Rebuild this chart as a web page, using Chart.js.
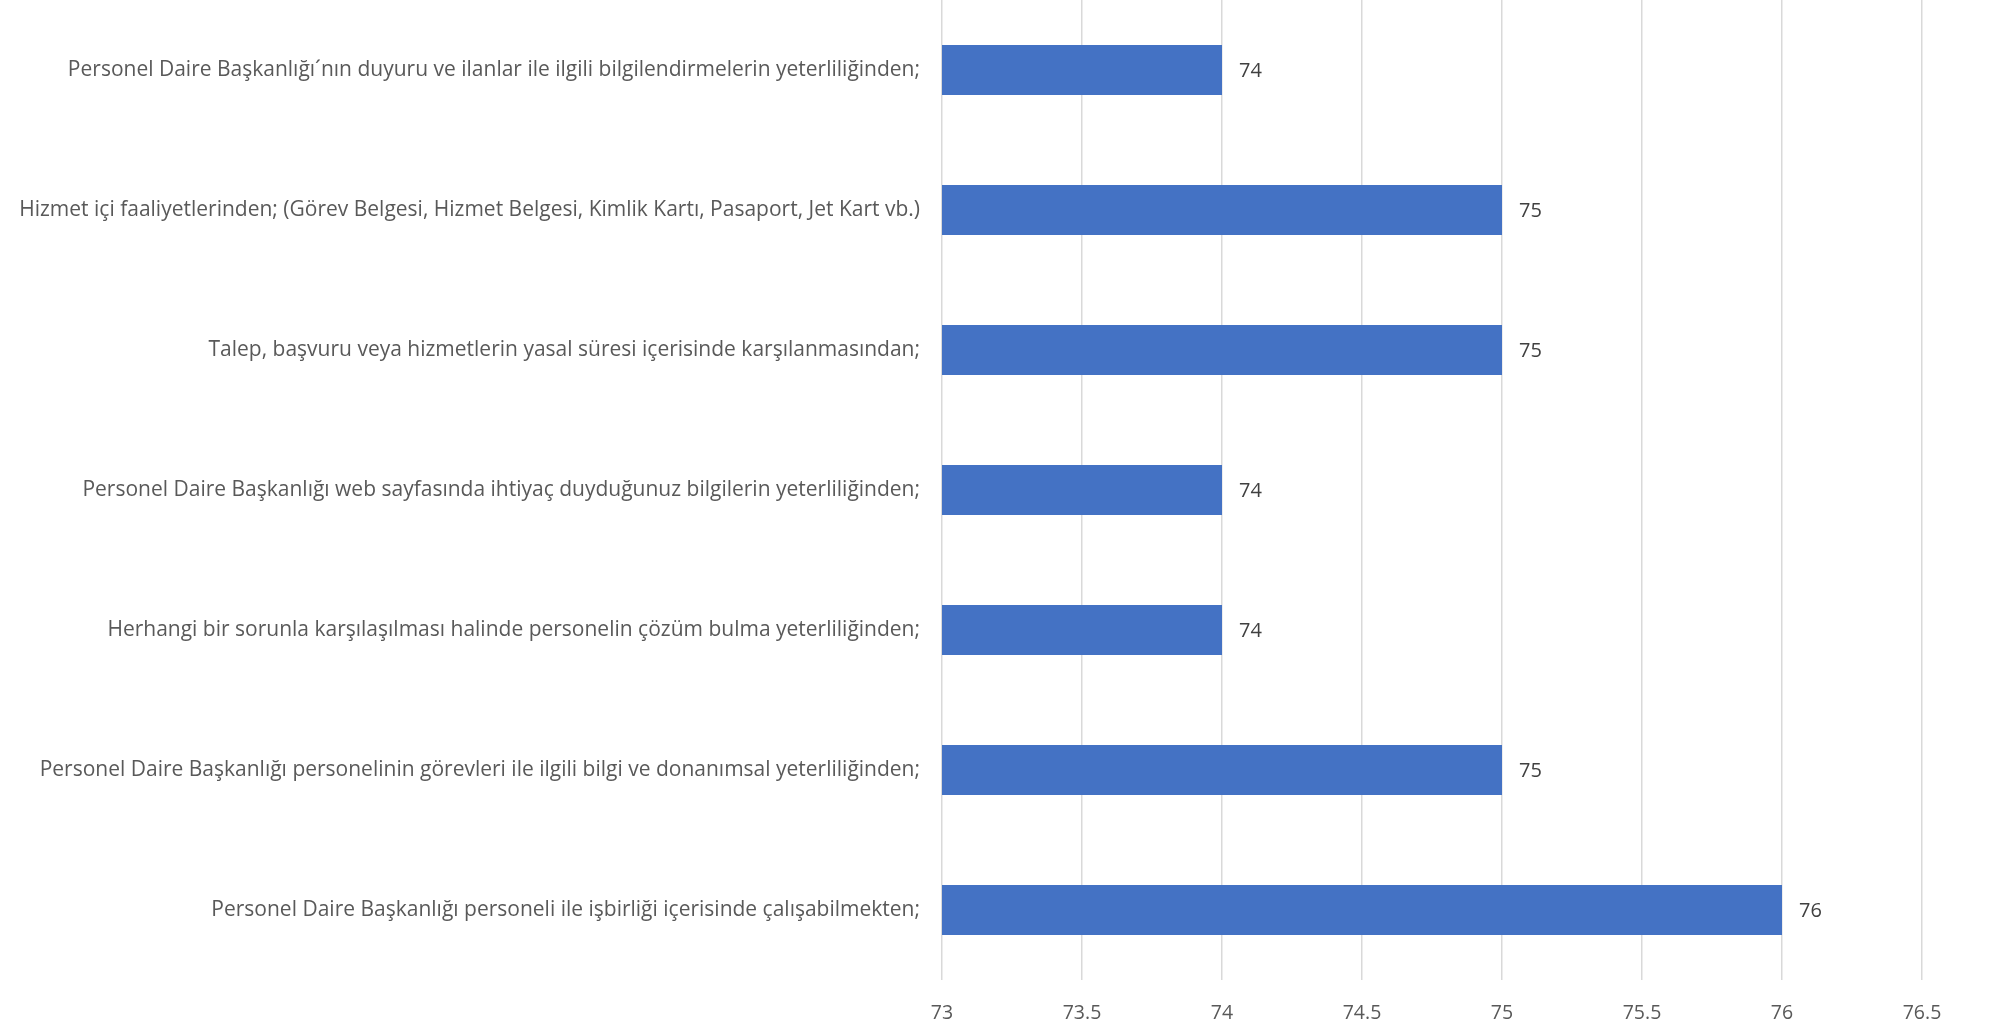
<!DOCTYPE html>
<html>
<head>
<meta charset="utf-8">
<script src="https://cdn.jsdelivr.net/npm/chart.js@4.4.1/dist/chart.umd.min.js"></script>
<style>
  html, body { margin: 0; padding: 0; background: #ffffff; }
  #wrap { width: 1989px; height: 1026px; }
</style>
</head>
<body>
<div id="wrap"><canvas id="myChart" width="1989" height="1026"></canvas></div>
<script>
let kategoriler = [
    'Personel Daire Başkanlığı´nın duyuru ve ilanlar ile ilgili bilgilendirmelerin yeterliliğinden;',
    'Hizmet içi faaliyetlerinden; (Görev Belgesi, Hizmet Belgesi, Kimlik Kartı, Pasaport, Jet Kart vb.)',
    'Talep, başvuru veya hizmetlerin yasal süresi içerisinde karşılanmasından;',
    'Personel Daire Başkanlığı web sayfasında ihtiyaç duyduğunuz bilgilerin yeterliliğinden;',
    'Herhangi bir sorunla karşılaşılması halinde personelin çözüm bulma yeterliliğinden;',
    'Personel Daire Başkanlığı personelinin görevleri ile ilgili bilgi ve donanımsal yeterliliğinden;',
    'Personel Daire Başkanlığı personeli ile işbirliği içerisinde çalışabilmekten;'
];

let puanlar = [74, 75, 75, 74, 74, 75, 76];

let eksenMin = 73;
let eksenMax = 76.5;
let eksenAdim = 0.5;

const FONT = '"Open Sans", Lato, sans-serif';

// bar sonuna deger yazar
const degerEtiketi = {
    id: 'degerEtiketi',
    afterDatasetsDraw(chart) {
        const ctx = chart.ctx;
        const meta = chart.getDatasetMeta(0);
        ctx.save();
        ctx.font = '20px ' + FONT;
        ctx.fillStyle = '#404040';
        ctx.textAlign = 'left';
        ctx.textBaseline = 'middle';
        meta.data.forEach(function(bar, i) {
            ctx.fillText(String(chart.data.datasets[0].data[i]), bar.x + 17, bar.y + 1);
        });
        ctx.restore();
    }
};

let chartElement = document.getElementById('myChart').getContext('2d');

let myChart = new Chart(chartElement, {
    type: 'bar',
    data: {
        labels: kategoriler,
        datasets: [{
            data: puanlar,
            backgroundColor: '#4472C4',
            borderWidth: 0,
            barPercentage: 0.357,
            categoryPercentage: 1
        }]
    },
    options: {
        indexAxis: 'y',
        responsive: false,
        animation: false,
        layout: { padding: { top: 0, right: 67, left: 0, bottom: 0 } },
        plugins: {
            legend: { display: false },
            tooltip: { enabled: false }
        },
        scales: {
            x: {
                min: eksenMin,
                max: eksenMax,
                ticks: {
                    stepSize: eksenAdim,
                    color: '#595959',
                    font: { family: FONT, size: 19.5 },
                    padding: 22,
                    callback: function(v) { return String(v); }
                },
                grid: { color: '#d9d9d9', lineWidth: 1.5, drawTicks: false },
                border: { display: false },
                afterFit: function(scale) { scale.height = 46; }
            },
            y: {
                ticks: {
                    color: '#595959',
                    font: { family: FONT, size: 21 },
                    padding: 22
                },
                grid: { display: false, drawTicks: false },
                border: { display: false },
                afterFit: function(scale) {
                    scale.width = 942;
                    scale.paddingTop = 0;
                    scale.paddingBottom = 0;
                }
            }
        }
    },
    plugins: [degerEtiketi]
});
</script>
</body>
</html>
